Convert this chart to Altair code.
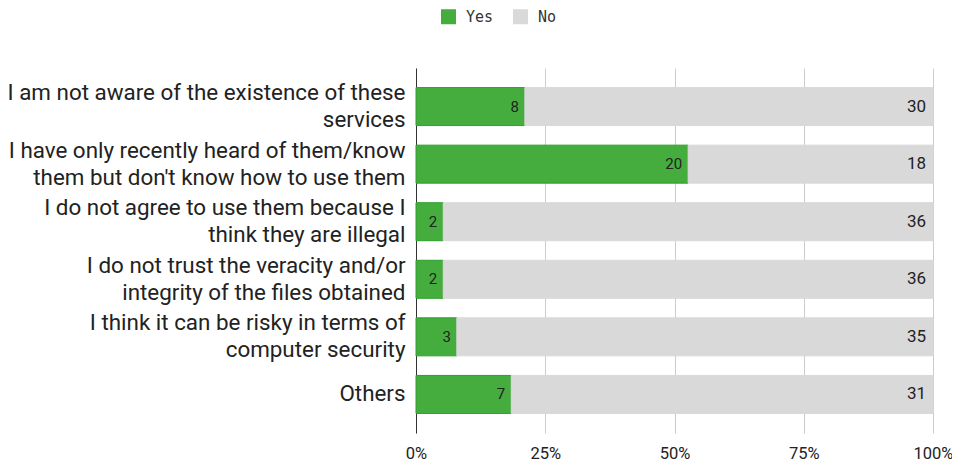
import altair as alt
import pandas as pd

categories = [
    "I am not aware of the existence of these\nservices",
    "I have only recently heard of them/know\nthem but don't know how to use them",
    "I do not agree to use them because I\nthink they are illegal",
    "I do not trust the veracity and/or\nintegrity of the files obtained",
    "I think it can be risky in terms of\ncomputer security",
    "Others",
]
yes_counts = [8, 20, 2, 2, 3, 7]
no_counts = [30, 18, 36, 36, 35, 31]
series = ["Yes", "No"]
tick_values = [0, 0.25, 0.5, 0.75, 1]

rows = []
for c, y, n in zip(categories, yes_counts, no_counts):
    rows.append({"category": c, "series": "Yes", "order": 0, "count": y})
    rows.append({"category": c, "series": "No", "order": 1, "count": n})
df = pd.DataFrame(rows)

GREEN = "#45ad3e"
GREEN_STROKE = "#2f9e2c"
GRAY = "#d9d9d9"

base = alt.Chart(df).transform_stack(
    stack="count",
    groupby=["category"],
    as_=["start", "end"],
    offset="normalize",
    sort=[alt.SortField("order", order="ascending")],
)

y_enc = alt.Y(
    "category:N",
    sort=categories,
    title=None,
    scale=alt.Scale(paddingInner=0.34, paddingOuter=0.34),
    axis=alt.Axis(
        labelExpr="split(datum.value, '\\n')",
        labelFont="Roboto",
        labelFontSize=22.4,
        labelColor="#222222",
        labelLineHeight=27,
        labelLimit=0,
        labelPadding=11,
        labelOffset={
            "condition": {"test": "indexof(datum.value, '\\n') >= 0", "value": -13.5},
            "value": 0,
        },
        ticks=False,
        grid=False,
        domain=True,
        domainColor="#333333",
        domainWidth=1,
    ),
)

x_enc = alt.X(
    "start:Q",
    title=None,
    scale=alt.Scale(domain=[0, 1]),
    axis=alt.Axis(
        values=tick_values,
        format="%",
        labelFont="Roboto",
        labelFontSize=16.5,
        labelColor="#222222",
        labelPadding=12,
        labelFlush=False,
        ticks=False,
        domain=False,
        grid=True,
        gridColor="#cccccc",
        gridWidth=1,
    ),
)

bars = base.mark_bar(strokeWidth=1).encode(
    y=y_enc,
    x=x_enc,
    x2="end:Q",
    fill=alt.Fill(
        "series:N",
        sort=series,
        scale=alt.Scale(domain=series, range=[GREEN, GRAY]),
        legend=alt.Legend(
            title=None,
            orient="none",
            direction="horizontal",
            legendX=25,
            legendY=-59,
            symbolType="square",
            symbolSize=225,
            symbolStrokeWidth=0,
            labelFont="DejaVu Sans Mono",
            labelFontSize=15,
            labelColor="#333333",
            labelOffset=10,
            columnPadding=19,
        ),
    ),
    stroke=alt.condition(
        alt.datum.series == "Yes", alt.value(GREEN_STROKE), alt.value(GRAY)
    ),
)

labels_yes = base.transform_filter(alt.datum.series == "Yes").mark_text(
    align="right",
    baseline="middle",
    dx=-6,
    font="Roboto",
    fontSize=15,
    color="#222222",
).encode(
    y=alt.Y("category:N", sort=categories),
    x=alt.X("end:Q"),
    text=alt.Text("count:Q"),
)

labels_no = base.transform_filter(alt.datum.series == "No").mark_text(
    align="right",
    baseline="middle",
    dx=-7,
    font="Roboto",
    fontSize=17,
    color="#222222",
).encode(
    y=alt.Y("category:N", sort=categories),
    x=alt.X("end:Q"),
    text=alt.Text("count:Q"),
)

chart = (
    alt.layer(bars, labels_yes, labels_no)
    .properties(
        width=517,
        height=365,
        autosize=alt.AutoSizeParams(type="none"),
        padding={"left": 408, "top": 60, "right": 19, "bottom": 29},
        background="white",
    )
    .configure_view(stroke=None)
)

chart.save("out.html", embed_options={"renderer": "svg", "actions": False})
